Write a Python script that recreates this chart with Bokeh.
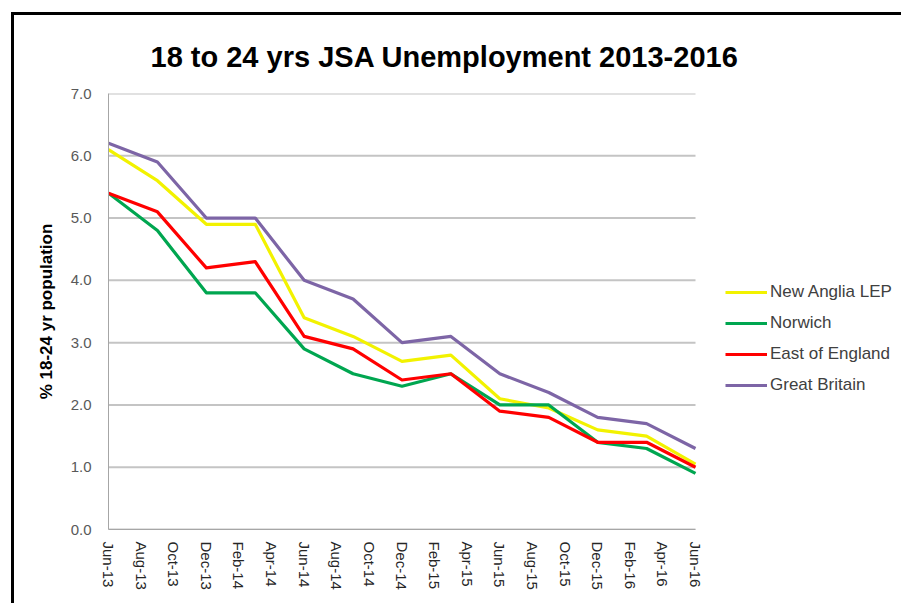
import pandas as pd
from bokeh.plotting import figure
from bokeh.models import Legend, LegendItem, FixedTicker, Range1d
from bokeh.embed import file_html
from bokeh.resources import INLINE

# ---- data ----
dates = ["Jun-13", "Sep-13", "Dec-13", "Mar-14", "Jun-14", "Sep-14", "Dec-14",
         "Mar-15", "Jun-15", "Sep-15", "Dec-15", "Mar-16", "Jun-16"]
new_anglia = [6.1, 5.6, 4.9, 4.9, 3.4, 3.1, 2.7, 2.8, 2.1, 1.95, 1.6, 1.5, 1.05]
norwich = [5.4, 4.8, 3.8, 3.8, 2.9, 2.5, 2.3, 2.5, 2.0, 2.0, 1.4, 1.3, 0.9]
east_england = [5.4, 5.1, 4.2, 4.3, 3.1, 2.9, 2.4, 2.5, 1.9, 1.8, 1.4, 1.4, 1.0]
great_britain = [6.2, 5.9, 5.0, 5.0, 4.0, 3.7, 3.0, 3.1, 2.5, 2.2, 1.8, 1.7, 1.3]
tick_labels = ["Jun-13", "Aug-13", "Oct-13", "Dec-13", "Feb-14", "Apr-14", "Jun-14",
               "Aug-14", "Oct-14", "Dec-14", "Feb-15", "Apr-15", "Jun-15", "Aug-15",
               "Oct-15", "Dec-15", "Feb-16", "Apr-16", "Jun-16"]
y_ticks = [0, 1, 2, 3, 4, 5, 6, 7]

series = [("New Anglia LEP", new_anglia, "#f2f200"),
          ("Norwich", norwich, "#00a650"),
          ("East of England", east_england, "#ff0000"),
          ("Great Britain", great_britain, "#7d65a6")]


def month_index(s):
    d = pd.to_datetime(s, format="%b-%y")
    return (d.year - 2013) * 12 + d.month - 6


xs = [month_index(d) for d in dates]
tick_pos = [month_index(t) for t in tick_labels]

FONT = "Liberation Sans"

# layout geometry (pixels)
W, H = 890, 591
BL, BR, BT, BB = 94, 5, 78, 77
FRAME_W = W - BL - BR
DATA_W = 587  # pixel width used by the data span; the rest hosts the legend
x0, x1 = tick_pos[0], tick_pos[-1]
x_end = x0 + (x1 - x0) * FRAME_W / DATA_W

p = figure(width=W, height=H, output_backend="svg", toolbar_location=None,
           x_range=Range1d(x0, x_end), y_range=Range1d(0, 7),
           min_border_left=BL, min_border_right=BR, min_border_top=BT,
           min_border_bottom=BB)
p.styles = {"margin-left": "11px", "margin-top": "12px",
            "border-left": "3px solid black", "border-top": "3px solid black"}

p.title.text = "18 to 24 yrs JSA Unemployment 2013-2016"
p.title.align = "left"
p.title.offset = 42
p.title.text_font = FONT
p.title.text_font_size = "29px"
p.title.text_font_style = "bold"
p.title.text_color = "#000000"
p.title.standoff = 42

p.outline_line_color = None
p.background_fill_color = "white"
p.border_fill_color = "white"

p.xgrid.grid_line_color = None
p.ygrid.grid_line_color = None
# horizontal gridlines limited to the data span
p.segment(x0=[x0] * len(y_ticks), x1=[x1] * len(y_ticks), y0=y_ticks, y1=y_ticks,
          line_color="#c4c4c4", line_width=2)

p.yaxis.ticker = FixedTicker(ticks=y_ticks)
p.yaxis.major_label_overrides = {v: f"{v:.1f}" for v in y_ticks}
p.yaxis.major_label_text_font = FONT
p.yaxis.major_label_text_font_size = "15px"
p.yaxis.major_label_text_color = "#595959"
p.yaxis.major_tick_line_color = None
p.yaxis.minor_tick_line_color = None
p.yaxis.axis_line_color = "#a6a6a6"
p.yaxis.major_label_standoff = 11
p.yaxis.axis_label = "% 18-24 yr population"
p.yaxis.axis_label_text_font = FONT
p.yaxis.axis_label_text_font_size = "17px"
p.yaxis.axis_label_text_font_style = "bold"
p.yaxis.axis_label_text_color = "#000000"
p.yaxis.axis_label_standoff = 12

p.xaxis.bounds = (x0, x1)
p.xaxis.ticker = FixedTicker(ticks=tick_pos)
p.xaxis.major_label_overrides = {pos: lab for pos, lab in zip(tick_pos, tick_labels)}
p.xaxis.major_label_orientation = -1.5708
p.xaxis.major_label_text_font = FONT
p.xaxis.major_label_text_font_size = "15px"
p.xaxis.major_label_text_color = "#262626"
p.xaxis.major_tick_line_color = None
p.xaxis.minor_tick_line_color = None
p.xaxis.axis_line_color = "#a6a6a6"
p.xaxis.major_label_standoff = 6

items = []
for name, vals, color in series:
    r = p.line(xs, vals, line_color=color, line_width=3.2, line_join="round")
    items.append(LegendItem(label=name, renderers=[r]))

legend = Legend(items=items, location=(617, 134), orientation="vertical",
                padding=0, margin=0, spacing=11, glyph_width=42, glyph_height=20,
                label_standoff=3, label_height=20,
                label_text_font=FONT, label_text_font_size="17px",
                label_text_color="#404040",
                background_fill_alpha=0, border_line_color=None)
p.add_layout(legend, "center")

open("out.html", "w").write(file_html(p, INLINE))
